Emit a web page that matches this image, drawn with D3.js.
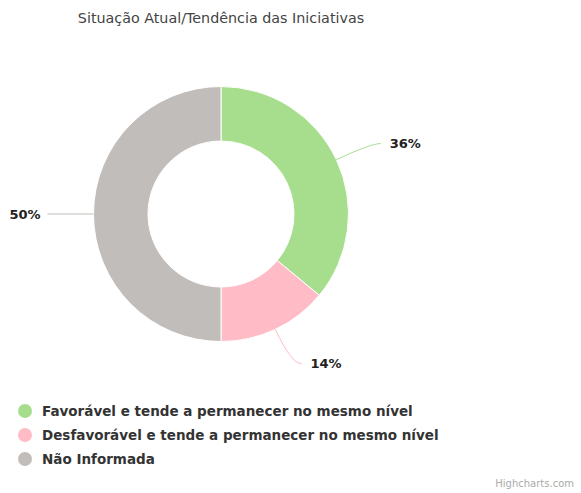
<!DOCTYPE html>
<html lang="pt">
<head>
<meta charset="UTF-8">
<title>Situação Atual/Tendência das Iniciativas</title>
<script src="https://d3js.org/d3.v7.min.js"></script>
<style>
    body { margin: 0; background: #fff; font-family: "DejaVu Sans", Arial, sans-serif; }
    svg { display: block; }
</style>
</head>
<body>
<div id="chart"></div>
<script>
    // Dados
    const categories = [
        "Favorável e tende a permanecer no mesmo nível",
        "Desfavorável e tende a permanecer no mesmo nível",
        "Não Informada"
    ];
    const values = [36, 14, 50];
    const colors = ["#a7de8e", "#ffbcc7", "#c1bdba"];

    const width = 581, height = 493;
    const cx = 221, cy = 214;
    const outerR = 127.5, innerR = 73;

    const svg = d3.select("#chart").append("svg")
        .attr("width", width)
        .attr("height", height);

    // Título
    svg.append("text")
        .attr("x", cx)
        .attr("y", 23)
        .attr("text-anchor", "middle")
        .style("font-size", "14.3px")
        .style("fill", "#444")
        .text("Situação Atual/Tendência das Iniciativas");

    const data = categories.map((c, i) => ({ name: c, value: values[i], color: colors[i] }));

    const pie = d3.pie().value(d => d.value).sort(null);
    const arcs = pie(data);

    const arc = d3.arc().innerRadius(innerR).outerRadius(outerR);

    const g = svg.append("g").attr("transform", `translate(${cx},${cy})`);

    g.selectAll("path.slice")
        .data(arcs)
        .enter()
        .append("path")
        .attr("class", "slice")
        .attr("d", arc)
        .attr("fill", d => d.data.color)
        .attr("stroke", "#fff")
        .attr("stroke-width", 1);

    // ponto sobre o arco num raio dado
    function pt(a, r) {
        return [Math.sin(a) * r, -Math.cos(a) * r];
    }

    const total = d3.sum(values);

    arcs.forEach(d => {
        const mid = (d.startAngle + d.endAngle) / 2;
        const right = Math.sin(mid) >= 0;
        const s = pt(mid, outerR);
        const e = pt(mid, outerR + 38);
        const end = [e[0] + (right ? 10 : -8), e[1]];

        g.append("path")
            .attr("d", `M${s[0]},${s[1]} Q${e[0]},${e[1]} ${end[0]},${end[1]}`)
            .attr("fill", "none")
            .attr("stroke", d.data.color)
            .attr("stroke-width", 1);

        g.append("text")
            .attr("x", end[0] + (right ? 9 : -7))
            .attr("y", end[1])
            .attr("dy", "0.35em")
            .attr("text-anchor", right ? "start" : "end")
            .style("font-size", "13px")
            .style("font-weight", "bold")
            .style("fill", "#222")
            .text(Math.round(d.data.value / total * 100) + "%");
    });

    // Legenda
    const legend = svg.append("g").attr("transform", "translate(25,411)");
    const item = legend.selectAll("g")
        .data(data)
        .enter()
        .append("g")
        .attr("transform", (d, i) => `translate(0,${i * 24})`);

    item.append("circle")
        .attr("r", 7)
        .attr("fill", d => d.color);

    item.append("text")
        .attr("x", 17)
        .attr("dy", "0.35em")
        .style("font-size", "13.5px")
        .style("font-weight", "bold")
        .style("fill", "#333")
        .text(d => d.name);

    // Créditos
    svg.append("text")
        .attr("x", 574)
        .attr("y", 487)
        .attr("text-anchor", "end")
        .style("font-size", "10px")
        .style("fill", "#aaa")
        .text("Highcharts.com");
</script>
</body>
</html>
